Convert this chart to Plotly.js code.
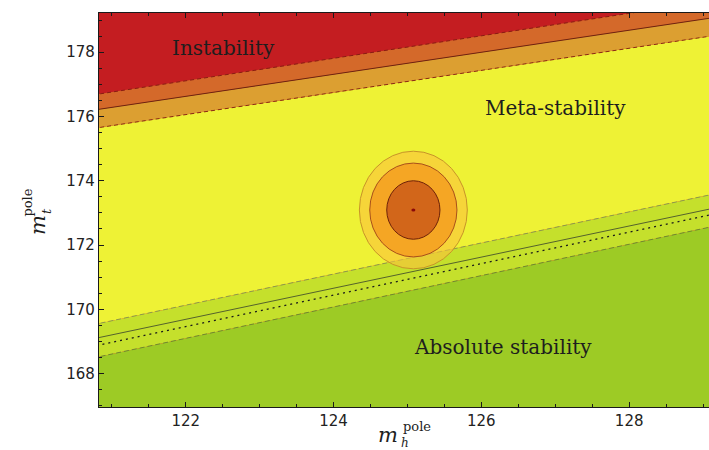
<!DOCTYPE html>
<html>
<head>
<meta charset="utf-8">
<script src="https://cdn.plot.ly/plotly-3.0.1.min.js"></script>
<style>html,body{margin:0;padding:0;background:#fff;}#chart{width:709px;height:450px;}</style>
</head>
<body>
<div id="chart"></div>
<script>
// ---- data ----
const mhEnds = [120, 130];                       // Higgs pole mass at the line ends (GeV)
const mtInstabUpper   = [176.41, 179.91];        // red / dark-orange boundary (dashed)
const mtInstabCentral = [175.94, 179.37];        // central instability line (solid)
const mtInstabLower   = [175.37, 178.81];        // light-orange / yellow boundary (dashed)
const mtStabUpper     = [169.16, 174.00];        // yellow / light-green boundary (dashed)
const mtStabCentral   = [168.72, 173.56];        // central stability line (solid)
const mtStabDotted    = [168.48, 173.38];        // dotted stability line
const mtStabLower     = [168.12, 173.00];        // light-green / green boundary (dashed)

const mhCentral = 125.08;                        // measured m_h
const mtCentral = 173.09;                        // measured m_t
const ellipseMhHalf = [0.73, 0.59, 0.36];        // outer, middle, inner half-widths
const ellipseMtHalf = [1.83, 1.46, 0.91];

const xTicks = [122, 124, 126, 128];
const yTicks = [168, 170, 172, 174, 176, 178];
const regionLabels = ['Instability', 'Meta-stability', 'Absolute stability'];

// ---- styles ----
const C = {
  red: '#c41d21', dkOrange: '#d4692a', ltOrange: '#dc9f31',
  yellow: '#eef235', ltGreen: '#c5e02c', green: '#9dcb25'
};

function band(y, color, fill) {
  return {x: mhEnds, y: y, mode: 'lines', line: {width: 0}, fill: fill,
          fillcolor: color, hoverinfo: 'skip', showlegend: false};
}
function edge(y, color, dash, w) {
  return {x: mhEnds, y: y, mode: 'lines', line: {color: color, width: w || 1, dash: dash},
          hoverinfo: 'skip', showlegend: false};
}

const traces = [
  band(mtStabLower, C.green, 'tozeroy'),
  band(mtStabUpper, C.ltGreen, 'tonexty'),
  band(mtInstabLower, C.yellow, 'tonexty'),
  band(mtInstabCentral, C.ltOrange, 'tonexty'),
  band(mtInstabUpper, C.dkOrange, 'tonexty'),
  edge(mtInstabUpper, '#8a1c12', '4px,3px'),
  edge(mtInstabCentral, '#6e2410', 'solid'),
  edge(mtInstabLower, '#8a2a12', '4px,3px'),
  edge(mtStabUpper, '#8d9a4c', '5px,3px'),
  edge(mtStabCentral, '#55622c', 'solid'),
  edge(mtStabDotted, '#1a1a1a', '2px,4px', 1.3),
  edge(mtStabLower, '#6f8a30', '5px,3px')
];

const ellFill = ['rgba(250,195,60,0.62)', '#f5a624', '#d2661a'];
const ellLine = ['#c89428', '#a9501a', '#6e2208'];
const shapes = ellipseMhHalf.map((rx, i) => ({
  type: 'circle', xref: 'x', yref: 'y', layer: 'above',
  x0: mhCentral - rx, x1: mhCentral + rx,
  y0: mtCentral - ellipseMtHalf[i], y1: mtCentral + ellipseMtHalf[i],
  fillcolor: ellFill[i], line: {color: ellLine[i], width: 1}
}));
shapes.push({type: 'circle', xref: 'x', yref: 'y', layer: 'above',
  xsizemode: 'pixel', ysizemode: 'pixel', xanchor: mhCentral, yanchor: mtCentral,
  x0: -2, x1: 2, y0: -1.5, y1: 1.5, fillcolor: '#8b0a0a', line: {width: 0}});

const serif = 'DejaVu Serif';
const txt = '#1e1e1e';
const annotations = [
  {x: 122.505, y: 178.13, text: regionLabels[0]},
  {x: 127.004, y: 176.265, text: regionLabels[1]},
  {x: 126.294, y: 168.83, text: regionLabels[2]}
].map(a => Object.assign(a, {xref: 'x', yref: 'y', showarrow: false,
  xanchor: 'center', yanchor: 'middle', font: {family: serif, size: 20, color: txt}}));

function pa(x, y, text, size, angle) {
  return {xref: 'paper', yref: 'paper', x: x, y: y, text: text, showarrow: false,
    xanchor: 'center', yanchor: 'middle', textangle: angle || 0, borderpad: 0,
    font: {family: serif, size: size, color: txt}};
}
annotations.push(
  pa(0.4738, -0.070, '<i>m</i>', 21),
  pa(0.521, -0.049, 'pole', 13),
  pa(0.501, -0.091, '<i>h</i>', 12),
  pa(-0.100, 0.462, '<i>m</i>', 21, -90),
  pa(-0.118, 0.519, 'pole', 13, -90),
  pa(-0.086, 0.496, '<i>t</i>', 13, -90)
);

const axisCommon = {
  showgrid: false, zeroline: false, showline: true, linecolor: '#1a1a1a', linewidth: 1.2,
  ticks: 'inside', ticklen: 5, tickwidth: 1, tickcolor: '#1a1a1a',
  tickfont: {family: 'DejaVu Sans', size: 15, color: '#222'},
  minor: {dtick: 0.5, ticks: 'inside', ticklen: 3, tickwidth: 1, tickcolor: '#1a1a1a'}
};

const layout = {
  width: 709, height: 450,
  margin: {l: 99, r: 0, t: 13, b: 43},
  paper_bgcolor: '#ffffff', plot_bgcolor: C.red,
  showlegend: false,
  xaxis: Object.assign({}, axisCommon, {range: [120.827, 129.08], tickvals: xTicks,
    mirror: 'ticks'}),
  yaxis: Object.assign({}, axisCommon, {range: [166.96, 179.22], tickvals: yTicks,
    mirror: false}),
  shapes: shapes,
  annotations: annotations
};

Plotly.newPlot('chart', traces, layout, {staticPlot: true, displayModeBar: false});
</script>
</body>
</html>
